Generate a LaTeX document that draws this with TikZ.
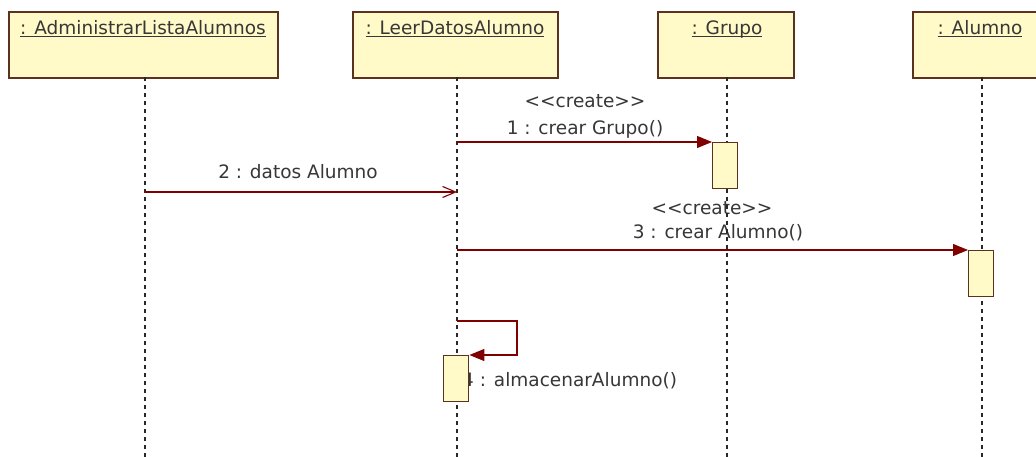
\documentclass[tikz,border=0pt]{standalone}
\usepackage{fontspec}
\setmainfont{DejaVu Sans}
\usetikzlibrary{arrows.meta}
\definecolor{boxfill}{RGB}{255,250,200}
\definecolor{boxdraw}{RGB}{90,50,30}
\definecolor{msgred}{RGB}{128,0,0}
\definecolor{txt}{RGB}{55,55,55}
\definecolor{lifec}{RGB}{40,40,40}
\newcommand{\objname}[1]{\underline{\raisebox{0pt}[\height][0pt]{#1}}}
\begin{document}
\begin{tikzpicture}[x=1pt,y=-1pt,
  objbox/.style={draw=boxdraw, fill=boxfill, line width=1.6pt, minimum width=#1, minimum height=66pt, inner sep=0pt, anchor=north west},
  actbox/.style={draw=boxdraw, fill=boxfill, line width=1.4pt, minimum width=25pt, minimum height=46pt, inner sep=0pt, anchor=north west},
  lbl/.style={text=txt, inner sep=0pt, font=\fontsize{18.5}{21}\selectfont},
  lifeline/.style={draw=lifec, line width=1.9pt, dash pattern=on 4pt off 4pt},
  msg/.style={draw=msgred, line width=1.1pt},
  filledhead/.style={-{Triangle[length=15pt,width=12pt,fill=msgred]}},
  openhead/.style={-{Straight Barb[length=13pt,width=11pt,line width=1.1pt]}}
]
\useasboundingbox (0,0) rectangle (1036,457);
\clip (0,0) rectangle (1036,457);
\fill[white] (0,0) rectangle (1036,457);

% object boxes
\node[objbox=269] (b1) at (8,11) {};
\node[objbox=205] (b2) at (352,11) {};
\node[objbox=136] (b3) at (657,11) {};
\node[objbox=140] (b4) at (912,11) {};

\node[lbl, anchor=base] (t1) at (143,35) {\objname{: AdministrarListaAlumnos}};
\node[lbl, anchor=base] (t2) at (455,35) {\objname{: LeerDatosAlumno}};
\node[lbl, anchor=base] (t3) at (727,35) {\objname{: Grupo}};
\node[lbl, anchor=base] (t4) at (980,35) {\objname{: Alumno}};

% message labels
\node[lbl] (c1) at (585,101) {{<}{<}create{>}{>}};
\node[lbl] (n1) at (585,129) {1 : crear Grupo()};
\node[lbl] (n2) at (298,172) {2 : datos Alumno};
\node[lbl] (c3) at (712,208) {{<}{<}create{>}{>}};
\node[lbl] (n3) at (718,233) {3 : crear Alumno()};
\node[lbl, anchor=west] (n4) at (462,381) {4 : almacenarAlumno()};

% lifelines
\coordinate (l1t) at (145,77); \coordinate (l1b) at (145,457);
\coordinate (l2t) at (457,77); \coordinate (l2b) at (457,457);
\coordinate (l3t) at (727,77); \coordinate (l3b) at (727,457);
\coordinate (l4t) at (982,77); \coordinate (l4b) at (982,457);
\draw[lifeline] (l1t) -- (l1b);
\draw[lifeline] (l2t) -- (l2b);
\draw[lifeline] (l3t) -- (l3b);
\draw[lifeline] (l4t) -- (l4b);

% activations
\node[actbox] (a1) at (712,142) {};
\node[actbox] (a2) at (968,250) {};
\node[actbox] (a3) at (443,355) {};

% messages
\coordinate (m1s) at (457,142);
\coordinate (m2s) at (145,192);
\coordinate (m2e) at (457,192);
\coordinate (m3s) at (457,250);
\coordinate (m4s) at (457,321);
\draw[msg, filledhead] (m1s) -- (a1.north west);
\draw[msg, openhead] (m2s) -- (m2e);
\draw[msg, filledhead] (m3s) -- (a2.north west);
\draw[msg, filledhead] (m4s) -- ++(60,0) |- (a3.north east);
\end{tikzpicture}
\end{document}
